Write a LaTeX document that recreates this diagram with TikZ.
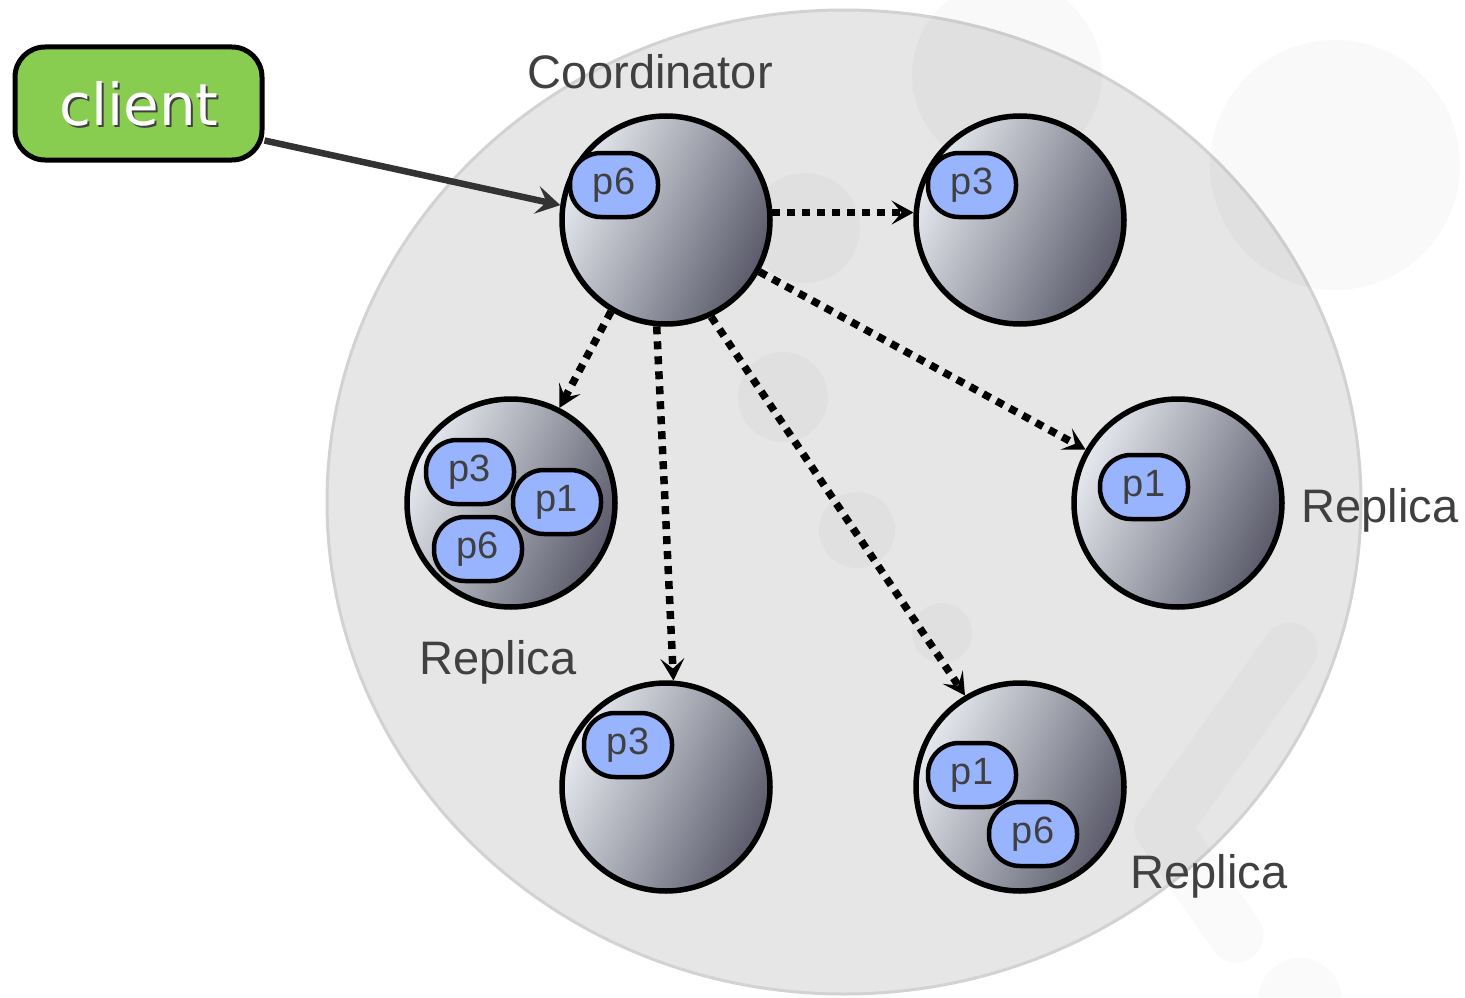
\documentclass[tikz,border=0pt]{standalone}
\usepackage{fontspec}
\setmainfont{Liberation Sans}
\newfontfamily\clientfont{DejaVu Sans}
\usetikzlibrary{arrows.meta}

\definecolor{ringfill}{RGB}{230,230,230}
\definecolor{ringedge}{RGB}{210,210,210}
\definecolor{srvlight}{RGB}{230,233,238}
\definecolor{srvmid}{RGB}{160,162,173}
\definecolor{srvdark}{RGB}{90,90,106}
\definecolor{partfill}{RGB}{152,180,255}
\definecolor{labelgray}{RGB}{64,64,64}
\definecolor{clientgreen}{RGB}{136,204,80}
\definecolor{linkgray}{RGB}{51,51,51}

\tikzset{
  wmark/.style={fill=black, opacity=0.025},
  server/.style={circle, draw=black, line width=5.5pt, minimum size=208pt,
    inner sep=0pt, top color=srvlight, bottom color=srvdark,
    middle color=srvmid, shading angle=65},
  part/.style={draw=black, line width=4.5pt, fill=partfill, rounded corners=31pt,
    minimum width=88pt, minimum height=64pt, inner sep=0pt,
    font=\fontsize{38}{40}\selectfont, text=labelgray},
  caption/.style={font=\fontsize{47}{52}\selectfont, text=labelgray, inner sep=0pt},
  push/.style={draw=black, line width=7.5pt, dash pattern=on 8pt off 7pt,
    -{Stealth[length=22pt,width=24pt,inset=10pt]}},
  request/.style={draw=linkgray, line width=6.5pt,
    -{Stealth[length=24pt,width=28pt,inset=10pt,fill=linkgray]}},
}

\begin{document}
\begin{tikzpicture}[x=1pt,y=-1pt]
\useasboundingbox (0,0) rectangle (1465,998);

% cluster ring
\draw[ringedge, line width=3pt, fill=ringfill] (844,502) ellipse [x radius=517pt, y radius=492pt];

% faint background emblem
\fill[wmark] (1335,165) circle (125pt);
\fill[wmark] (1007,75) circle (95pt);
\fill[wmark] (805,228) circle (55pt);
\fill[wmark] (783,397) circle (45pt);
\fill[wmark] (857,530) circle (38pt);
\fill[wmark] (942,633) circle (30pt);
\draw[black, opacity=0.02, line width=55pt, line cap=round, line join=round]
  (1290,650) -- (1162,828) -- (1236,935);
\fill[black, opacity=0.02] (1300,1000) circle (42pt);

% servers
\node[server] (coord) at (666,220) {};
\node[server] (rtop)  at (1020,220) {};
\node[server] (rleft) at (511,503) {};
\node[server] (rright) at (1178,503) {};
\node[server] (rbot)  at (666,787) {};
\node[server] (rbr)   at (1020,787) {};

% partitions held by each server
\node[part] (c6)  at (614,185) {p6};
\node[part] (t3)  at (972,185) {p3};
\node[part] (l3)  at (470,472) {p3};
\node[part] (l1)  at (557,502) {p1};
\node[part] (l6)  at (478,549) {p6};
\node[part] (r1)  at (1144,487) {p1};
\node[part] (b3)  at (628,745) {p3};
\node[part] (br1) at (972,775) {p1};
\node[part] (br6) at (1033,834) {p6};

% captions
\node[caption] (lcoord) at (650,72) {Coordinator};
\node[caption] (lright) at (1380,510) {Replica};
\node[caption] (lleft)  at (498,662) {Replica};
\node[caption] (lbr)    at (1209,876) {Replica};

% client
\node[draw=black, line width=5pt, fill=clientgreen, rounded corners=30pt,
      minimum width=247pt, minimum height=113pt] (client) at (138.5,103.5) {};
\node[font=\clientfont\fontsize{58}{60}\selectfont, text=black!75] (clientshade) at (141,106) {client};
\node[font=\clientfont\fontsize{58}{60}\selectfont, text=white] (clienttext) at (139,104) {client};

% request from the client
\draw[request] ([yshift=-37pt]client.east) -- (coord.172);

% replication to the replicas
\draw[push] (coord.4) -- (rtop.176);
\draw[push] (coord.239) -- (rleft.63);
\draw[push] (coord.265.5) -- (rbot.86.7);
\draw[push] (coord.295.6) -- (rbr.121.4);
\draw[push] (coord.331.8) -- (rright.150.7);
\end{tikzpicture}
\end{document}
